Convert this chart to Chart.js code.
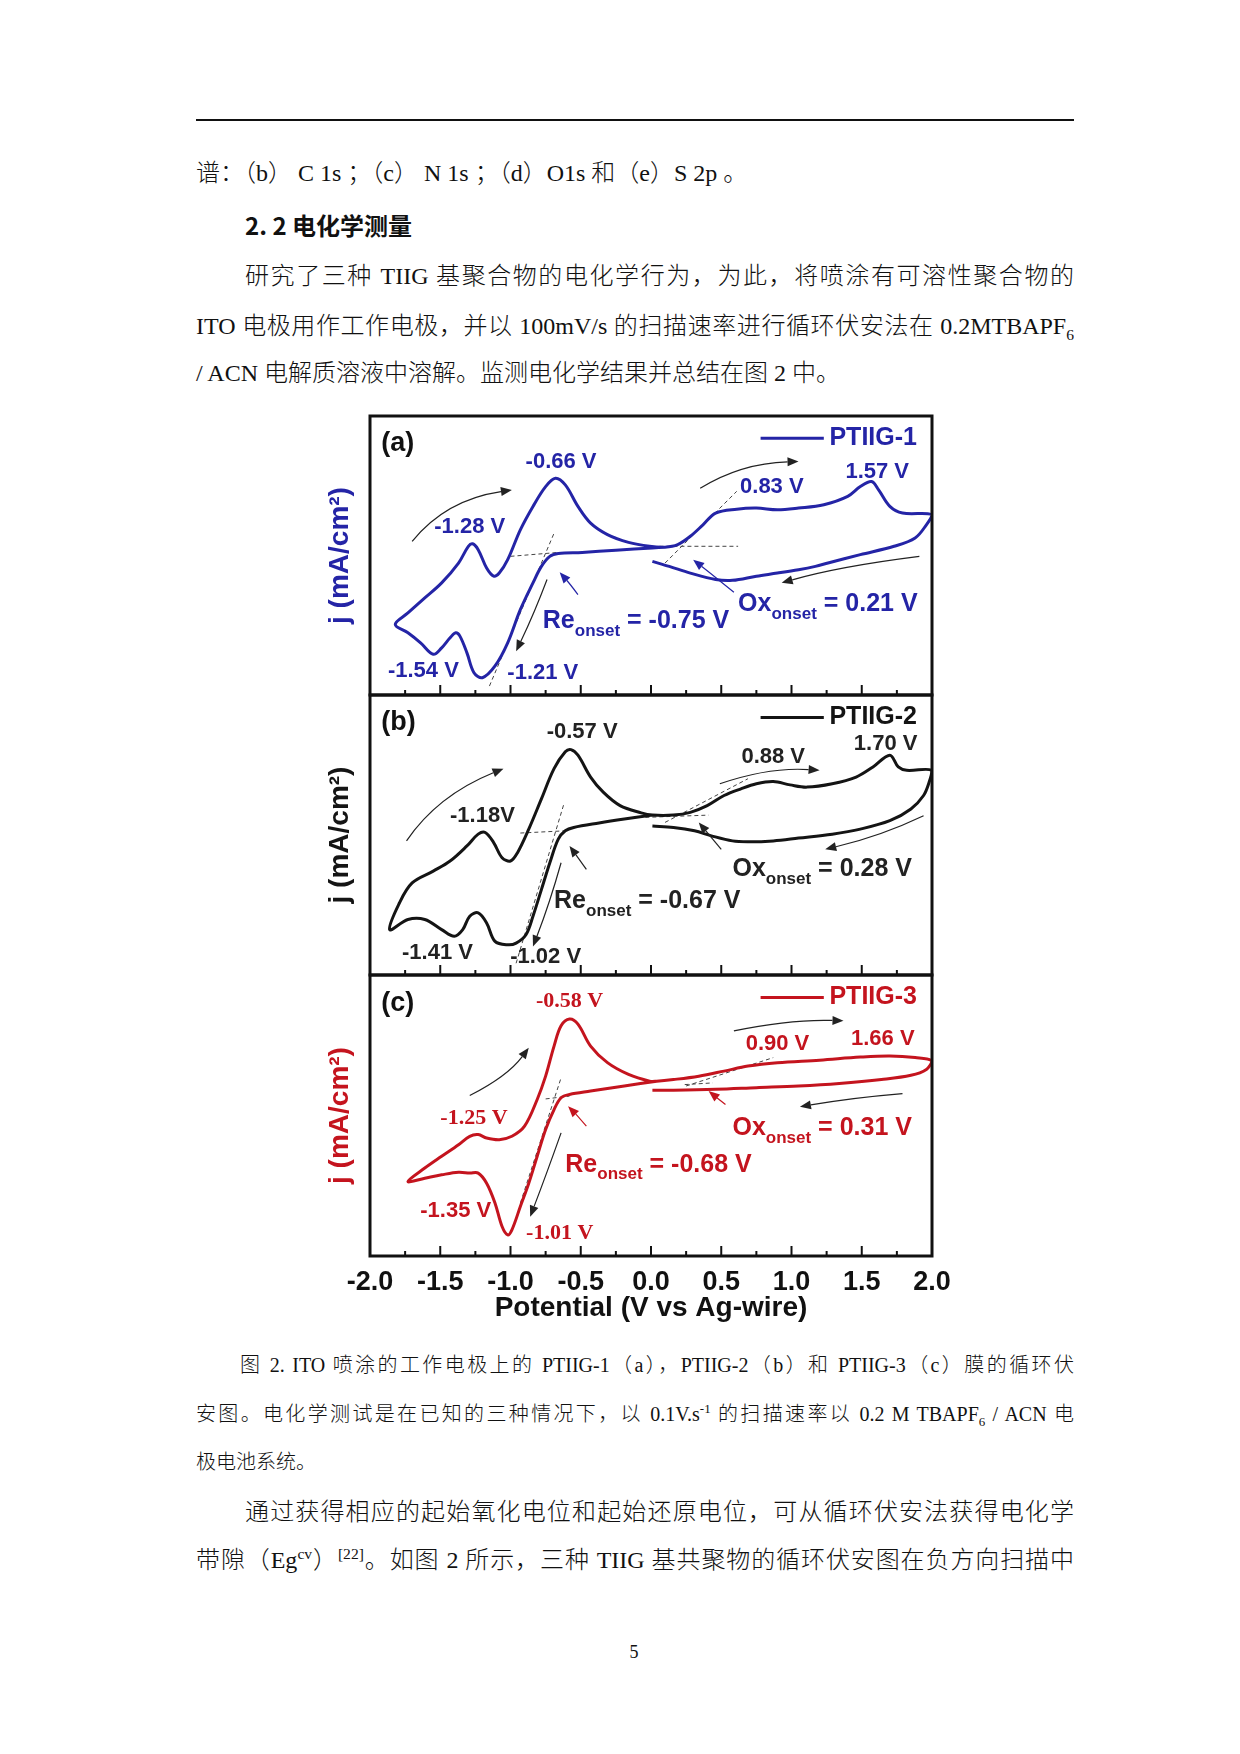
<!DOCTYPE html>
<html lang="zh-CN">
<head>
<meta charset="utf-8">
<title>图 2 循环伏安图</title>
<script src="https://cdn.jsdelivr.net/npm/chart.js"></script>
<style>
    html, body { margin: 0; padding: 0; background: #fff; }
    #page { position: relative; width: 1240px; height: 1754px; overflow: hidden;
            font-family: "Liberation Serif", "Noto Sans CJK SC", serif; font-weight: 300; color: #111; }
    .ln { position: absolute; height: 40px; line-height: 40px; font-size: 24px; white-space: nowrap; }
    .jf { white-space: normal; text-align: justify; text-align-last: justify; overflow: hidden; }
    .cap { font-size: 20px; }
    .hd { font-family: "Noto Sans CJK SC", sans-serif; font-weight: bold; }
    sub, sup { font-size: 65%; line-height: 0; }
    #rule { position: absolute; left: 196px; top: 119px; width: 878px; height: 2px; background: #111; }
    canvas.cv { position: absolute; left: 290px; }
</style>
</head>
<body>
<div id="page">
    <div id="rule"></div>
    <div class="ln" style="left:196px; top:153px;">谱：（b） C 1s ；（c） N 1s ；（d）O1s 和（e）S 2p 。</div>
    <div class="ln hd" style="left:245px; top:205px;">2. 2 电化学测量</div>
    <div class="ln jf" style="left:245px; top:256px; width:829px;">研究了三种 TIIG 基聚合物的电化学行为，为此，将喷涂有可溶性聚合物的</div>
    <div class="ln jf" style="left:196px; top:306px; width:878px;">ITO 电极用作工作电极，并以 100mV/s 的扫描速率进行循环伏安法在 0.2MTBAPF<sub>6</sub></div>
    <div class="ln" style="left:196px; top:353px;">/ ACN 电解质溶液中溶解。监测电化学结果并总结在图 2 中。</div>

    <canvas id="cvA" class="cv" width="672" height="291" style="top:410px;"></canvas>
    <canvas id="cvB" class="cv" width="672" height="292" style="top:689px;"></canvas>
    <canvas id="cvC" class="cv" width="672" height="360" style="top:969px;"></canvas>

    <div class="ln cap jf" style="left:240px; top:1345px; width:834px;">图 2. ITO 喷涂的工作电极上的 PTIIG-1（a），PTIIG-2（b）和 PTIIG-3（c）膜的循环伏</div>
    <div class="ln cap jf" style="left:196px; top:1394px; width:878px;">安图。电化学测试是在已知的三种情况下，以 0.1V.s<sup>-1</sup> 的扫描速率以 0.2 M TBAPF<sub>6</sub> / ACN 电</div>
    <div class="ln cap" style="left:196px; top:1442px;">极电池系统。</div>
    <div class="ln jf" style="left:245px; top:1492px; width:829px;">通过获得相应的起始氧化电位和起始还原电位，可从循环伏安法获得电化学</div>
    <div class="ln jf" style="left:196px; top:1540px; width:878px;">带隙（Eg<sup>cv</sup>）<sup>[22]</sup>。如图 2 所示，三种 TIIG 基共聚物的循环伏安图在负方向扫描中</div>
    <div class="ln" style="left:614px; top:1632px; width:40px; text-align:center; font-size:18px;">5</div>
</div>

<script>
// potential (V vs Ag-wire) and current (arbitrary units, 0 = bottom of panel, 100 = top)
var xTicks = [-2.0, -1.5, -1.0, -0.5, 0.0, 0.5, 1.0, 1.5, 2.0];
var xMinorTicks = [-1.75, -1.25, -0.75, -0.25, 0.25, 0.75, 1.25, 1.75];

var potA = [0.10, 0.01, -0.25, -0.49, -0.66, -0.72, -0.78, -0.84, -0.93, -1.02, -1.11, -1.20, -1.26, -1.31, -1.36, -1.39, -1.43, -1.49, -1.55, -1.64, -1.73, -1.82,
    -1.73, -1.61, -1.49, -1.37, -1.30, -1.27, -1.23, -1.17, -1.12, -1.08, -1.02, -0.93, -0.84, -0.75, -0.68, -0.61, -0.52, -0.43, -0.31, -0.16, -0.01, 0.10,
    0.19, 0.28, 0.37, 0.46, 0.61, 0.75, 0.90, 1.05, 1.23, 1.40, 1.49, 1.57, 1.62, 1.70, 1.79, 2.00,
    1.96, 1.88, 1.73, 1.49, 1.26, 1.17, 1.05, 0.90, 0.75, 0.58, 0.46, 0.28, 0.13, 0.01];
var curA = [53.0, 52.7, 51.9, 51.1, 50.7, 49.7, 46.1, 40.2, 30.6, 18.7, 10.4, 6.2, 8.0, 15.1, 21.1, 22.3, 20.5, 16.9, 14.6, 18.7, 22.3, 25.3,
    29.4, 34.8, 40.2, 47.3, 53.3, 54.2, 52.1, 45.5, 42.6, 43.7, 48.5, 59.2, 67.6, 74.7, 77.7, 75.3, 67.6, 61.6, 57.5, 54.7, 53.3, 53.0,
    53.9, 56.9, 61.0, 65.2, 66.6, 67.0, 66.4, 67.0, 68.2, 71.2, 74.7, 76.5, 73.5, 67.6, 65.2, 64.6,
    61.0, 56.3, 53.3, 50.3, 47.3, 46.1, 44.9, 43.7, 42.6, 41.1, 41.4, 43.7, 46.1, 47.9];

var potB = [0.01, -0.19, -0.37, -0.55, -0.61, -0.66, -0.72, -0.78, -0.84, -0.89, -0.96, -1.02, -1.11, -1.17, -1.23, -1.29, -1.34, -1.40, -1.49, -1.61, -1.73, -1.86,
    -1.79, -1.70, -1.55, -1.43, -1.31, -1.23, -1.18, -1.12, -1.06, -1.00, -0.95, -0.87, -0.78, -0.69, -0.61, -0.57, -0.52, -0.43, -0.34, -0.22, -0.07, 0.01, 0.16,
    0.28, 0.40, 0.52, 0.64, 0.75, 0.87, 0.99, 1.11, 1.29, 1.46, 1.58, 1.70, 1.76, 1.82, 2.00,
    1.98, 1.94, 1.85, 1.70, 1.49, 1.29, 1.05, 0.87, 0.69, 0.58, 0.43, 0.31, 0.16, 0.01];
var curB = [57.1, 55.7, 54.3, 52.7, 51.5, 48.5, 40.1, 30.5, 21.0, 14.4, 11.4, 10.8, 12.0, 18.6, 22.2, 21.0, 16.2, 13.8, 16.2, 19.8, 19.8, 16.2,
    25.8, 32.9, 37.1, 40.7, 46.1, 50.3, 50.9, 47.3, 41.9, 40.7, 43.7, 52.1, 62.9, 73.7, 79.7, 80.5, 78.5, 70.7, 65.3, 60.5, 57.9, 57.1, 57.1,
    58.1, 60.5, 64.1, 66.5, 68.3, 69.1, 67.9, 67.1, 68.3, 70.7, 74.3, 78.5, 74.3, 73.1, 73.1,
    68.9, 64.1, 59.3, 55.1, 52.1, 50.3, 48.9, 47.9, 47.6, 47.9, 49.7, 51.5, 52.7, 53.2];

var potC = [0.04, -0.19, -0.43, -0.58, -0.64, -0.69, -0.75, -0.81, -0.87, -0.93, -0.99, -1.02, -1.06, -1.11, -1.17, -1.23, -1.29, -1.37, -1.49, -1.61, -1.73,
    -1.61, -1.49, -1.37, -1.29, -1.23, -1.17, -1.08, -0.99, -0.90, -0.81, -0.75, -0.69, -0.64, -0.58, -0.52, -0.43, -0.31, -0.16, -0.01, 0.04,
    0.16, 0.34, 0.52, 0.69, 0.90, 1.20, 1.49, 1.70, 1.88, 2.00,
    1.96, 1.85, 1.64, 1.34, 1.05, 0.75, 0.46, 0.16, 0.01];
var curC = [62.2, 60.5, 58.7, 57.5, 56.3, 52.1, 45.0, 35.5, 25.9, 17.6, 9.3, 7.5, 10.5, 18.8, 25.9, 29.5, 29.5, 29.8, 28.9, 27.7, 26.5,
    31.3, 35.5, 39.6, 42.6, 43.2, 42.0, 41.4, 42.6, 46.2, 55.7, 64.0, 74.7, 81.9, 84.3, 82.5, 74.7, 68.8, 64.6, 62.2, 62.2,
    62.8, 64.0, 65.8, 67.6, 68.8, 69.7, 70.8, 71.2, 70.6, 69.4,
    66.4, 64.3, 62.8, 61.4, 60.5, 59.9, 59.3, 59.0, 59.0];

// annotations in data coordinates: [text, x, y, font] / onset: [main, rest, x, y]
// arrows: [x0, y0, cx, cy, x1, y1, own colour?], dashes: [x0, y0, x1, y1]
var marksA = {
    texts: [['-0.66 V', -0.64, 83.7, 's'], ['-1.28 V', -1.29, 60.4, 's'], ['0.83 V', 0.86, 74.7, 's'], ['1.57 V', 1.61, 80.1, 's'],
            ['-1.54 V', -1.62, 8.6, 's'], ['-1.21 V', -0.77, 8.0, 's']],
    onsets: [['Re', ' = -0.75 V', -0.77, 26.5], ['Ox', ' = 0.21 V', 0.62, 32.4]],
    arrows: [[-1.70, 55.1, -1.46, 70, -0.99, 73.5, 0], [0.35, 74.1, 0.64, 83.1, 1.05, 83.7, 0], [1.91, 49.7, 1.34, 46.1, 0.93, 40.2, 0],
             [-0.74, 41.4, -0.83, 29.4, -0.96, 15.7, 0], [-0.52, 36.0, -0.58, 40, -0.65, 44.0, 1], [0.59, 36.8, 0.45, 42.6, 0.30, 48.5, 1]],
    dashes: [[-1.00, 49.7, -0.66, 51.1], [-1.15, 3.2, -0.69, 58.0], [0.06, 53.3, 0.62, 53.3], [0.10, 47.3, 0.61, 73.0]]
};
var marksB = {
    texts: [['-0.57 V', -0.49, 86.9, 's'], ['1.70 V', 1.67, 82.7, 's'], ['0.88 V', 0.87, 77.9, 's'], ['-1.18V', -1.20, 56.9, 's'],
            ['-1.41 V', -1.52, 7.8, 's'], ['-1.02 V', -0.75, 6.6, 's']],
    onsets: [['Re', ' = -0.67 V', -0.69, 26.4], ['Ox', ' = 0.28 V', 0.58, 37.7]],
    arrows: [[-1.74, 47.9, -1.52, 64.1, -1.05, 73.7, 0], [0.49, 68.3, 0.84, 74.3, 1.20, 73.1, 0], [1.94, 56.9, 1.64, 49.7, 1.24, 44.9, 0],
             [-0.64, 40.1, -0.72, 25.8, -0.84, 10.2, 0], [-0.46, 37.7, -0.52, 42, -0.58, 46.1, 0], [0.50, 44.9, 0.42, 49.7, 0.34, 54.5, 0]],
    dashes: [[-0.93, 50.7, -0.61, 51.5], [-0.96, 4.2, -0.62, 61.1], [-0.04, 56.3, 0.41, 57.1], [0.10, 54.5, 0.69, 70.1]]
};
var marksC = {
    texts: [['-0.58 V', -0.58, 90.8, 'r'], ['0.90 V', 0.90, 75.3, 's'], ['1.66 V', 1.65, 77.1, 's'], ['-1.25 V', -1.26, 49.1, 'r'],
            ['-1.35 V', -1.39, 16.2, 's'], ['-1.01 V', -0.65, 8.1, 'r']],
    onsets: [['Re', ' = -0.68 V', -0.61, 32.5], ['Ox', ' = 0.31 V', 0.58, 45.6]],
    arrows: [[-1.29, 57.1, -1.02, 64.0, -0.87, 74.1, 0], [0.59, 80.1, 0.99, 84.3, 1.37, 83.7, 0], [1.79, 57.8, 1.43, 56.3, 1.06, 53.1, 0],
             [-0.64, 43.8, -0.75, 28.3, -0.86, 14.0, 0], [-0.46, 46.2, -0.52, 49.7, -0.59, 53.3, 1], [0.53, 53.9, 0.47, 56.3, 0.41, 58.7, 1]],
    dashes: [[-0.75, 55.9, -0.58, 56.9], [-0.93, 18.8, -0.64, 63.4], [0.24, 61.0, 0.44, 61.6], [0.25, 60.5, 0.87, 70.6]]
};

var panels = [
    { id: 'cvA', pot: potA, cur: curA, color: '#2424a6', tag: '(a)', name: 'PTIIG-1', marks: marksA, bottom: false },
    { id: 'cvB', pot: potB, cur: curB, color: '#141414', tag: '(b)', name: 'PTIIG-2', marks: marksB, bottom: false },
    { id: 'cvC', pot: potC, cur: curC, color: '#c4141e', tag: '(c)', name: 'PTIIG-3', marks: marksC, bottom: true }
];

var SANS = '"Liberation Sans", Arial, sans-serif';
var SERIF = '"Liberation Serif", "Times New Roman", serif';

function drawArrow(ctx, x0, y0, cx, cy, x1, y1, color) {
    var ang = Math.atan2(y1 - cy, x1 - cx);
    var hl = 11, hw = 4.5;
    var bx = x1 - hl * Math.cos(ang), by = y1 - hl * Math.sin(ang);
    ctx.strokeStyle = color;
    ctx.fillStyle = color;
    ctx.lineWidth = 1.2;
    ctx.beginPath();
    ctx.moveTo(x0, y0);
    ctx.quadraticCurveTo(cx, cy, bx, by);
    ctx.stroke();
    ctx.beginPath();
    ctx.moveTo(x1, y1);
    ctx.lineTo(bx + hw * Math.sin(ang), by - hw * Math.cos(ang));
    ctx.lineTo(bx - hw * Math.sin(ang), by + hw * Math.cos(ang));
    ctx.closePath();
    ctx.fill();
}

function marksPlugin(p) {
    return {
        id: 'cvMarks',
        beforeDatasetsDraw: function (chart) {
            var ctx = chart.ctx, sx = chart.scales.x, sy = chart.scales.y;
            ctx.save();
            ctx.setLineDash([4, 3]);
            ctx.strokeStyle = '#444';
            ctx.lineWidth = 1;
            p.marks.dashes.forEach(function (d) {
                ctx.beginPath();
                ctx.moveTo(sx.getPixelForValue(d[0]), sy.getPixelForValue(d[1]));
                ctx.lineTo(sx.getPixelForValue(d[2]), sy.getPixelForValue(d[3]));
                ctx.stroke();
            });
            ctx.restore();
        },
        afterDraw: function (chart) {
            var ctx = chart.ctx, a = chart.chartArea, sx = chart.scales.x, sy = chart.scales.y;
            function X(v) { return sx.getPixelForValue(v); }
            function Y(v) { return sy.getPixelForValue(v); }
            ctx.save();

            // frame and inward ticks along the bottom edge
            ctx.strokeStyle = '#111';
            ctx.lineWidth = 3;
            ctx.strokeRect(a.left, a.top, a.right - a.left, a.bottom - a.top);
            ctx.lineWidth = 2;
            xTicks.forEach(function (v) {
                ctx.beginPath(); ctx.moveTo(X(v), a.bottom); ctx.lineTo(X(v), a.bottom - 10); ctx.stroke();
            });
            xMinorTicks.forEach(function (v) {
                ctx.beginPath(); ctx.moveTo(X(v), a.bottom); ctx.lineTo(X(v), a.bottom - 5); ctx.stroke();
            });

            // panel tag and legend
            ctx.textBaseline = 'middle';
            ctx.textAlign = 'left';
            ctx.fillStyle = '#111';
            ctx.font = 'bold 27px ' + SANS;
            ctx.fillText(p.tag, X(-1.92), Y(90));
            ctx.strokeStyle = p.color;
            ctx.lineWidth = 3;
            ctx.beginPath(); ctx.moveTo(X(0.78), Y(92)); ctx.lineTo(X(1.23), Y(92)); ctx.stroke();
            ctx.fillStyle = p.color;
            ctx.font = 'bold 25px ' + SANS;
            ctx.fillText(p.name, X(1.27), Y(92));

            // arrows
            p.marks.arrows.forEach(function (r) {
                drawArrow(ctx, X(r[0]), Y(r[1]), X(r[2]), Y(r[3]), X(r[4]), Y(r[5]), r[6] ? p.color : '#222');
            });

            // peak labels
            ctx.textAlign = 'center';
            p.marks.texts.forEach(function (t) {
                ctx.font = 'bold 22px ' + (t[3] === 'r' ? SERIF : SANS);
                ctx.fillText(t[0], X(t[1]), Y(t[2]));
            });

            // onset labels with subscript
            ctx.textAlign = 'left';
            p.marks.onsets.forEach(function (o) {
                var x = X(o[2]), y = Y(o[3]);
                ctx.font = 'bold 25px ' + SANS;
                ctx.fillText(o[0], x, y);
                x += ctx.measureText(o[0]).width;
                ctx.font = 'bold 17px ' + SANS;
                ctx.fillText('onset', x, y + 10);
                x += ctx.measureText('onset').width;
                ctx.font = 'bold 25px ' + SANS;
                ctx.fillText(o[1], x, y);
            });
            ctx.restore();
        }
    };
}

panels.forEach(function (p) {
    var points = p.pot.map(function (v, i) { return { x: v, y: p.cur[i] }; });
    new Chart(document.getElementById(p.id), {
        type: 'scatter',
        data: {
            datasets: [{
                data: points,
                showLine: true,
                borderColor: p.color,
                borderWidth: 3,
                pointRadius: 0,
                tension: 0.35,
                fill: false
            }]
        },
        options: {
            responsive: false,
            animation: false,
            events: [],
            layout: { padding: { top: 6, bottom: p.bottom ? 4 : 6, left: 0, right: 30 } },
            plugins: { legend: { display: false }, tooltip: { enabled: false } },
            scales: {
                x: {
                    type: 'linear', min: -2, max: 2,
                    display: p.bottom,
                    afterBuildTicks: function (axis) { axis.ticks = xTicks.map(function (v) { return { value: v }; }); },
                    afterFit: function (axis) { axis.height = p.bottom ? 69 : 0; },
                    grid: { display: false, drawTicks: false },
                    border: { display: false },
                    ticks: {
                        autoSkip: false, maxRotation: 0, padding: 10, color: '#111',
                        font: { family: SANS, size: 27, weight: 'bold' },
                        callback: function (v) { return v.toFixed(1); }
                    },
                    title: {
                        display: true, text: 'Potential (V vs Ag-wire)', color: '#111',
                        padding: { top: 0, bottom: 0 },
                        font: { family: SANS, size: 28, weight: 'bold' }
                    }
                },
                y: {
                    type: 'linear', min: 0, max: 100,
                    afterFit: function (axis) { axis.width = 80; },
                    grid: { display: false },
                    border: { display: false },
                    ticks: { display: false },
                    title: {
                        display: true, text: 'j (mA/cm²)', color: p.color,
                        padding: { top: 33, bottom: 0 },
                        font: { family: SANS, size: 28, weight: 'bold' }
                    }
                }
            }
        },
        plugins: [marksPlugin(p)]
    });
});
</script>
</body>
</html>
